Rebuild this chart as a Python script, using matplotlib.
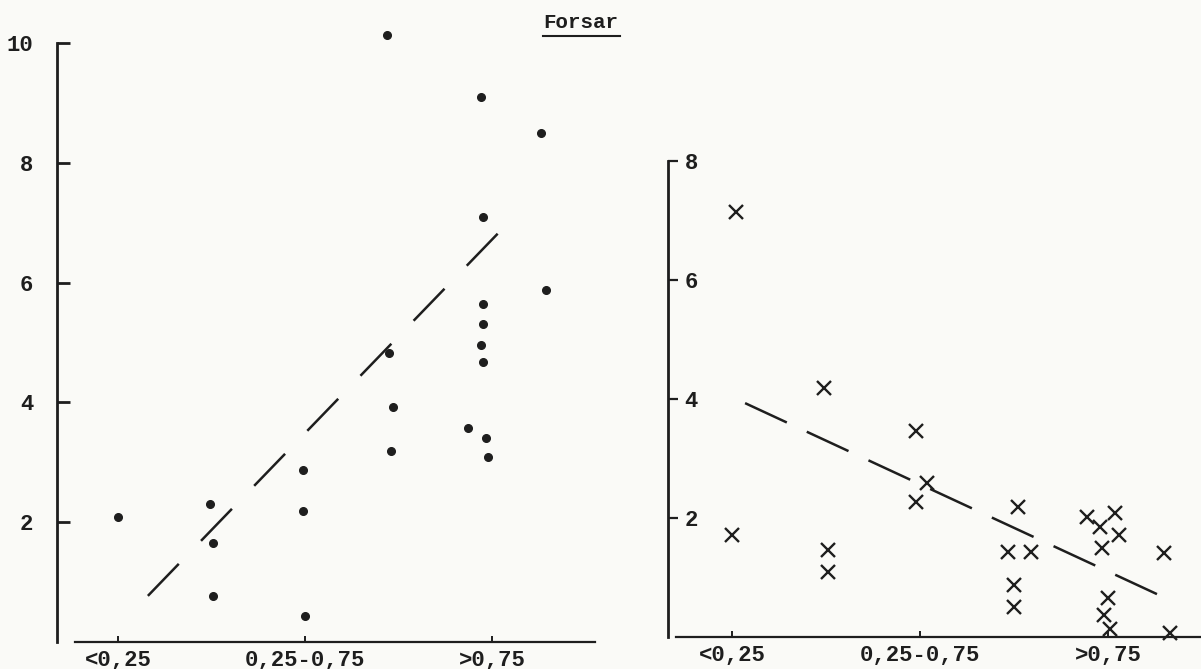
import matplotlib
matplotlib.use("Agg")
import matplotlib.pyplot as plt
from matplotlib.lines import Line2D

# categories on the x axis (same for both panels)
categories = ["<0,25", "0,25-0,75", ">0,75"]

# left panel: dots
left_x = [0.00, 0.49, 0.51, 0.51, 0.99, 0.99, 1.00, 1.45, 1.47, 1.46,
          1.44, 1.94, 2.26, 1.95, 2.29, 1.95, 1.95, 1.94, 1.95, 1.87,
          1.97, 1.98]
left_y = [2.08, 2.30, 1.65, 0.77, 2.87, 2.18, 0.44, 4.82, 3.93, 3.19,
          10.13, 9.10, 8.50, 7.09, 5.88, 5.65, 5.31, 4.96, 4.67, 3.58,
          3.41, 3.09]
left_fit_x = [0.16, 2.10]
left_fit_y = [0.77, 7.04]
left_yticks = [2, 4, 6, 8, 10]

# right panel: crosses
right_x = [0.02, 0.00, 0.49, 0.51, 0.51, 0.98, 1.04, 0.98, 1.52, 1.47,
           1.59, 1.50, 1.50, 1.89, 2.04, 1.96, 2.06, 1.97, 2.00, 1.98,
           2.01, 2.30, 2.33]
right_y = [7.14, 1.71, 4.18, 1.46, 1.09, 3.46, 2.59, 2.27, 2.19, 1.43,
           1.43, 0.87, 0.50, 2.02, 2.08, 1.85, 1.71, 1.50, 0.66, 0.37,
           0.13, 1.41, 0.07]
right_fit_x = [0.07, 2.35]
right_fit_y = [3.93, 0.59]
right_yticks = [2, 4, 6, 8]

title = "Forsar"

INK = "#1e1e1e"
PAPER = "#fafaf7"
FONT = "Liberation Mono"

W, H = 1201, 669
fig = plt.figure(figsize=(W / 100, H / 100), dpi=100, facecolor=PAPER)


def px_axes(left, right, top, bottom):
    return fig.add_axes([left / W, 1 - bottom / H, (right - left) / W, (bottom - top) / H])


def style(ax, xlim, ylim, xbounds, ybounds):
    ax.set_facecolor("none")
    ax.set_xlim(*xlim)
    ax.set_ylim(*ylim)
    for s in ("top", "right"):
        ax.spines[s].set_visible(False)
    ax.spines["left"].set_bounds(*ybounds)
    ax.spines["bottom"].set_bounds(*xbounds)
    ax.spines["left"].set_linewidth(2.0)
    ax.spines["bottom"].set_linewidth(1.6)
    for s in ("left", "bottom"):
        ax.spines[s].set_color(INK)
    ax.set_xticks(range(len(categories)))
    ax.set_xticklabels(categories, fontfamily=FONT, fontsize=16, fontweight="bold", color=INK)
    ax.tick_params(axis="x", direction="in", length=4, width=1.4, pad=6, colors=INK)


# left panel
ax1 = px_axes(57, 600, 31, 642)
style(ax1, (-0.326, 2.578), (0, 10.2), (-0.23, 2.55), (0, 10))
ax1.set_yticks(left_yticks)
ax1.set_yticklabels([str(v) for v in left_yticks], fontfamily=FONT, fontsize=16,
                    fontweight="bold", color=INK)
ax1.tick_params(axis="y", direction="in", length=9, width=2.0, pad=17, colors=INK)
ax1.plot(left_x, left_y, "o", color=INK, markersize=5.5, clip_on=False)
ax1.plot(left_fit_x, left_fit_y, color=INK, lw=1.8, dashes=(17.8, 12.8),
         solid_capstyle="butt", dash_capstyle="butt")

# right panel
ax2 = px_axes(668, 1201, 152, 637)
style(ax2, (-0.34, 2.495), (0, 8.15), (-0.30, 2.495), (0, 8))
ax2.set_yticks(right_yticks)
ax2.set_yticklabels([str(v) for v in right_yticks], fontfamily=FONT, fontsize=16,
                    fontweight="bold", color=INK)
ax2.tick_params(axis="y", direction="in", length=7, width=1.6, pad=-12, colors=INK)
for lab in ax2.get_yticklabels():
    lab.set_horizontalalignment("left")
ax2.plot(right_x, right_y, "x", color=INK, markersize=9.4, mew=1.7, clip_on=False)
ax2.plot(right_fit_x, right_fit_y, color=INK, lw=1.8, dashes=(18.4, 8.8),
         solid_capstyle="butt", dash_capstyle="butt")

# underlined title
fig.text(581 / W, 1 - 22 / H, title, ha="center", va="center", fontfamily=FONT,
         fontsize=15, fontweight="bold", color=INK)
fig.add_artist(Line2D([543 / W, 620 / W], [1 - 36 / H] * 2, color=INK, lw=1.5))

fig.savefig("out.png", dpi=100, facecolor=PAPER)
